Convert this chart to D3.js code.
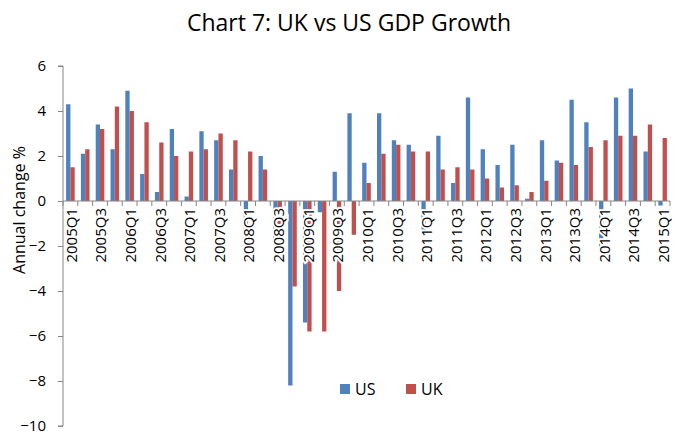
<!DOCTYPE html>
<html>
<head>
<meta charset="utf-8">
<script src="https://cdn.jsdelivr.net/npm/d3@7"></script>
<style>
  body { margin: 0; background: #fff; }
  text { font-family: "Open Sans", "Liberation Sans", sans-serif; fill: #000; }
</style>
</head>
<body>
<div id="chart"></div>
<script>
//quarters on the x axis
var quarters = [
    "2005Q1","2005Q2","2005Q3","2005Q4",
    "2006Q1","2006Q2","2006Q3","2006Q4",
    "2007Q1","2007Q2","2007Q3","2007Q4",
    "2008Q1","2008Q2","2008Q3","2008Q4",
    "2009Q1","2009Q2","2009Q3","2009Q4",
    "2010Q1","2010Q2","2010Q3","2010Q4",
    "2011Q1","2011Q2","2011Q3","2011Q4",
    "2012Q1","2012Q2","2012Q3","2012Q4",
    "2013Q1","2013Q2","2013Q3","2013Q4",
    "2014Q1","2014Q2","2014Q3","2014Q4",
    "2015Q1"
];

//series values (annual change %)
var usValues = [
    4.3, 2.1, 3.4, 2.3,
    4.9, 1.2, 0.4, 3.2,
    0.2, 3.1, 2.7, 1.4,
    -2.7, 2.0, -1.9, -8.2,
    -5.4, -0.5, 1.3, 3.9,
    1.7, 3.9, 2.7, 2.5,
    -1.5, 2.9, 0.8, 4.6,
    2.3, 1.6, 2.5, 0.1,
    2.7, 1.8, 4.5, 3.5,
    -2.1, 4.6, 5.0, 2.2,
    -0.2
];
var ukValues = [
    1.5, 2.3, 3.2, 4.2,
    4.0, 3.5, 2.6, 2.0,
    2.2, 2.3, 3.0, 2.7,
    2.2, 1.4, -1.5, -3.8,
    -5.8, -5.8, -4.0, -1.5,
    0.8, 2.1, 2.5, 2.2,
    2.2, 1.4, 1.5, 1.4,
    1.0, 0.6, 0.7, 0.4,
    0.9, 1.7, 1.6, 2.4,
    2.7, 2.9, 2.9, 3.4,
    2.8
];

//y tick values
var yTicks = [-10, -8, -6, -4, -2, 0, 2, 4, 6];

var seriesNames = ["US", "UK"];
var seriesColors = ["#4F81BD", "#C0504D"];

//svg size
var svgWidth = 681;
var svgHeight = 438;

var margin = {top: 66, right: 11, bottom: 12, left: 63};
var width = svgWidth - margin.left - margin.right;
var height = svgHeight - margin.top - margin.bottom;

var svg = d3.select("#chart").append("svg")
    .attr("width", svgWidth)
    .attr("height", svgHeight);

//title
svg.append("text")
    .attr("x", 349)
    .attr("y", 31)
    .attr("text-anchor", "middle")
    .attr("font-size", "23px")
    .text("Chart 7: UK vs US GDP Growth");

var chartGroup = svg.append("g")
    .attr("transform", `translate(${margin.left}, ${margin.top})`);

//scales
var xScale = d3.scaleBand()
    .domain(quarters)
    .range([0, width]);

var xInner = d3.scaleBand()
    .domain(seriesNames)
    .range([0, xScale.bandwidth()])
    .paddingInner(0)
    .paddingOuter(0.72);

var yScale = d3.scaleLinear()
    .domain([-10, 6])
    .range([height, 0]);

//table of bars built from the series
var table = [];
quarters.forEach(function(q, i) {
    table.push({q: q, s: "US", v: usValues[i]});
    table.push({q: q, s: "UK", v: ukValues[i]});
});

//bars
chartGroup.selectAll("rect.bar")
    .data(table)
    .enter()
    .append("rect")
    .classed("bar", true)
    .attr("x", d => xScale(d.q) + xInner(d.s))
    .attr("width", xInner.bandwidth())
    .attr("y", d => yScale(Math.max(0, d.v)))
    .attr("height", d => Math.abs(yScale(d.v) - yScale(0)))
    .attr("fill", d => seriesColors[seriesNames.indexOf(d.s)]);

//y axis
var leftAxis = d3.axisLeft(yScale)
    .tickValues(yTicks)
    .tickSize(5)
    .tickPadding(12)
    .tickFormat(d3.format("d"));

var yAxis = chartGroup.append("g")
    .call(leftAxis);
yAxis.select(".domain").attr("stroke", "#868686").attr("d", `M-5,${yScale(-10)}H0V${yScale(6)}H-5`);
yAxis.selectAll(".tick line").attr("stroke", "#868686");
yAxis.selectAll(".tick text")
    .attr("font-size", "15px")
    .style("font-family", "'Open Sans', sans-serif")
    .attr("fill", "#000");

//x axis along zero line
var zeroY = yScale(0);
var xAxisGroup = chartGroup.append("g");
xAxisGroup.append("line")
    .attr("x1", 0)
    .attr("x2", width)
    .attr("y1", zeroY)
    .attr("y2", zeroY)
    .attr("stroke", "#868686");

//tick marks at category boundaries
var boundaries = quarters.map(q => xScale(q)).concat([width]);
xAxisGroup.selectAll("line.xtick")
    .data(boundaries)
    .enter()
    .append("line")
    .classed("xtick", true)
    .attr("x1", d => d)
    .attr("x2", d => d)
    .attr("y1", zeroY)
    .attr("y2", zeroY + 5)
    .attr("stroke", "#868686");

//x labels, every other quarter
xAxisGroup.selectAll("text.xlabel")
    .data(quarters.filter((q, i) => i % 2 === 0))
    .enter()
    .append("text")
    .classed("xlabel", true)
    .attr("transform", d => `translate(${xScale(d) + xScale.bandwidth() / 2 + 1}, ${zeroY + 7}) rotate(-90)`)
    .attr("dy", "0.36em")
    .attr("text-anchor", "end")
    .attr("font-size", "15px")
    .attr("stroke", "#fff")
    .attr("stroke-width", 4)
    .attr("paint-order", "stroke")
    .text(d => d);

//y axis title
svg.append("text")
    .attr("transform", "translate(25, 210) rotate(-90)")
    .attr("text-anchor", "middle")
    .attr("font-size", "16px")
    .text("Annual change %");

//legend
var legend = svg.append("g")
    .attr("transform", "translate(340, 384)");
var legendItems = legend.selectAll("g")
    .data(seriesNames)
    .enter()
    .append("g")
    .attr("transform", (d, i) => `translate(${i * 66}, 0)`);
legendItems.append("rect")
    .attr("width", 10)
    .attr("height", 10)
    .attr("fill", (d, i) => seriesColors[i]);
legendItems.append("text")
    .attr("x", 15)
    .attr("y", 5)
    .attr("dy", "0.35em")
    .attr("font-size", "16px")
    .text(d => d);
</script>
</body>
</html>
